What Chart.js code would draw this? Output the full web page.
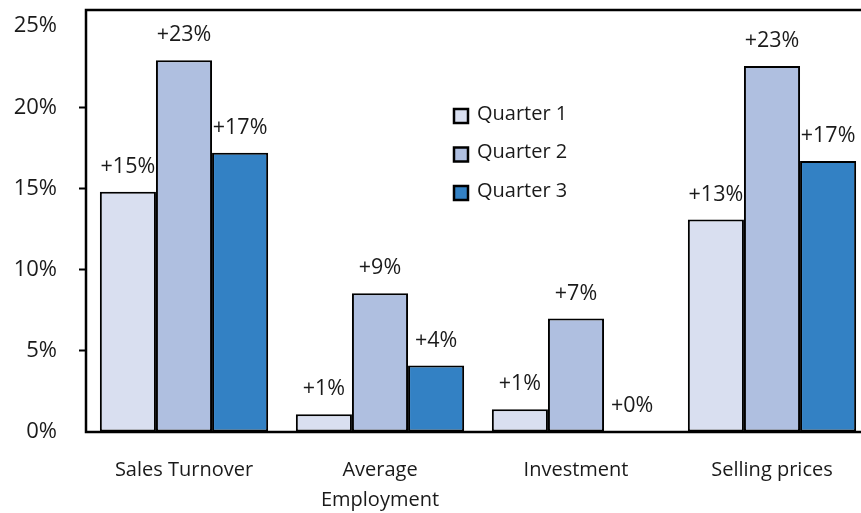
<!DOCTYPE html>
<html>
  <head>
    <title>Quarterly change by indicator</title>
    <script src="https://cdn.jsdelivr.net/npm/chart.js"></script>
    <style>
      html, body {
        margin: 0;
        padding: 0;
        background: #ffffff;
      }
      .wrap {
        width: 861px;
        height: 513px;
        overflow: hidden;
      }
    </style>
  </head>
  <body>
    <div class="wrap">
      <canvas id="chart" width="870" height="513"></canvas>
    </div>
    <script>
      const categories = ['Sales Turnover', ['Average', 'Employment'], 'Investment', 'Selling prices'];
      const seriesNames = ['Quarter 1', 'Quarter 2', 'Quarter 3'];
      const quarter1 = [14.8, 1.1, 1.4, 13.1];
      const quarter2 = [22.9, 8.55, 7.0, 22.55];
      const quarter3 = [17.2, 4.1, 0.05, 16.7];
      const yTicks = [0, 5, 10, 15, 20, 25];
      const colours = ['#d9dff0', '#afbfe0', '#3381c4'];

      const ink = '#1a1a1a';
      Chart.defaults.font.family = "'Open Sans', sans-serif";
      Chart.defaults.font.size = 22;
      Chart.defaults.color = ink;

      // black frame round the plot (right edge falls off the page)
      const frame = {
        id: 'frame',
        afterDatasetsDraw(chart) {
          const a = chart.chartArea;
          const ctx = chart.ctx;
          ctx.save();
          ctx.strokeStyle = '#000';
          ctx.lineWidth = 2.5;
          ctx.strokeRect(a.left, a.top, a.right - a.left, a.bottom - a.top);
          ctx.restore();
        }
      };

      // "+n%" above each bar
      const barLabels = {
        id: 'barLabels',
        afterDatasetsDraw(chart) {
          const ctx = chart.ctx;
          ctx.save();
          ctx.font = "21.5px 'Open Sans', sans-serif";
          ctx.fillStyle = ink;
          ctx.textAlign = 'center';
          ctx.textBaseline = 'middle';
          chart.data.datasets.forEach((ds, i) => {
            chart.getDatasetMeta(i).data.forEach((bar, j) => {
              ctx.fillText('+' + Math.round(ds.data[j]) + '%', bar.x, bar.y - 25);
            });
          });
          ctx.restore();
        }
      };

      // legend sitting inside the plot
      const innerLegend = {
        id: 'innerLegend',
        afterDraw(chart) {
          const ctx = chart.ctx;
          ctx.save();
          ctx.font = "20px 'Open Sans', sans-serif";
          ctx.textBaseline = 'middle';
          chart.data.datasets.forEach((ds, i) => {
            const cy = 116 + i * 38.5;
            ctx.fillStyle = ds.backgroundColor;
            ctx.fillRect(454, cy - 7, 14, 14);
            ctx.strokeStyle = '#000';
            ctx.lineWidth = 2.5;
            ctx.strokeRect(454, cy - 7, 14, 14);
            ctx.fillStyle = ink;
            ctx.fillText(ds.label, 477, cy - 2);
          });
          ctx.restore();
        }
      };

      const datasets = [quarter1, quarter2, quarter3].map((values, i) => ({
        label: seriesNames[i],
        data: values,
        backgroundColor: colours[i],
        borderColor: '#000',
        borderWidth: 2,
        borderSkipped: false,
        categoryPercentage: 0.8586,
        barPercentage: 1
      }));

      new Chart(document.getElementById('chart'), {
        type: 'bar',
        data: { labels: categories, datasets: datasets },
        plugins: [frame, barLabels, innerLegend],
        options: {
          responsive: false,
          animation: false,
          layout: { padding: { top: 10, right: 0, left: 0, bottom: 0 } },
          plugins: {
            legend: { display: false },
            tooltip: { enabled: false }
          },
          scales: {
            x: {
              grid: { display: false, drawTicks: false },
              border: { display: false },
              ticks: { padding: 23, font: { size: 20, lineHeight: 1.5 }, maxRotation: 0 },
              afterFit(axis) {
                axis.height = 81;
                axis.paddingLeft = 0;
                axis.paddingRight = 0;
              }
            },
            y: {
              min: 0,
              max: 26,
              border: { display: false },
              grid: {
                drawOnChartArea: false,
                tickLength: 7,
                tickWidth: 2,
                tickColor: c => (c.tick && c.tick.value % 25 === 0 ? 'rgba(0,0,0,0)' : '#000')
              },
              ticks: {
                padding: 22,
                stepSize: 5,
                callback: v => v + '%'
              },
              afterBuildTicks(axis) {
                axis.ticks = yTicks.map(v => ({ value: v }));
              },
              afterFit(axis) {
                axis.width = 86;
                axis.paddingTop = 0;
                axis.paddingBottom = 0;
              }
            }
          }
        }
      });
    </script>
  </body>
</html>
